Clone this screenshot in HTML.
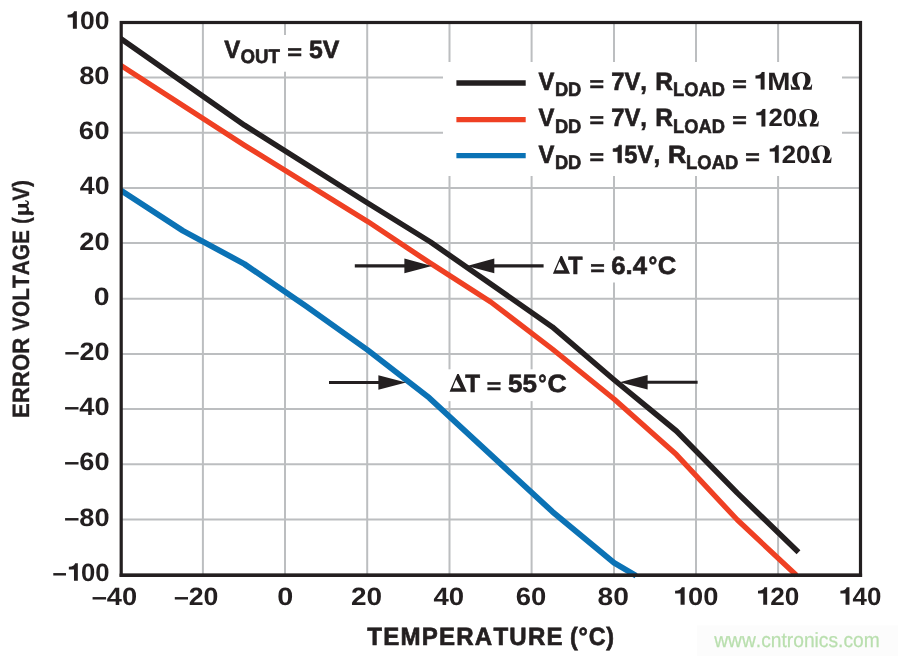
<!DOCTYPE html>
<html><head><meta charset="utf-8"><title>Error Voltage vs Temperature</title>
<style>
html,body{margin:0;padding:0;background:#fff;}
body{width:898px;height:656px;overflow:hidden;font-family:"Liberation Sans",sans-serif;}
svg{will-change:transform;}
svg text,svg path.one{vector-effect:non-scaling-stroke;}
svg text{font-kerning:none;text-rendering:geometricPrecision;white-space:pre;}
</style></head><body>
<svg width="898" height="656" viewBox="0 0 898 656" style="display:block">
<rect width="898" height="656" fill="#fff"/>
<rect x="697" y="625.5" width="201" height="30.5" fill="#fcfcfc"/>
<line x1="202.9" y1="22.5" x2="202.9" y2="575.2" stroke="#bcbec0" stroke-width="2"/>
<line x1="285.0" y1="22.5" x2="285.0" y2="575.2" stroke="#bcbec0" stroke-width="2"/>
<line x1="367.2" y1="22.5" x2="367.2" y2="575.2" stroke="#bcbec0" stroke-width="2"/>
<line x1="449.5" y1="22.5" x2="449.5" y2="575.2" stroke="#bcbec0" stroke-width="2"/>
<line x1="531.6" y1="22.5" x2="531.6" y2="575.2" stroke="#bcbec0" stroke-width="2"/>
<line x1="614.0" y1="22.5" x2="614.0" y2="575.2" stroke="#bcbec0" stroke-width="2"/>
<line x1="696.0" y1="22.5" x2="696.0" y2="575.2" stroke="#bcbec0" stroke-width="2"/>
<line x1="778.1" y1="22.5" x2="778.1" y2="575.2" stroke="#bcbec0" stroke-width="2"/>
<line x1="121.2" y1="77.5" x2="860.5" y2="77.5" stroke="#bcbec0" stroke-width="2"/>
<line x1="121.2" y1="132.7" x2="860.5" y2="132.7" stroke="#bcbec0" stroke-width="2"/>
<line x1="121.2" y1="188" x2="860.5" y2="188" stroke="#bcbec0" stroke-width="2"/>
<line x1="121.2" y1="243" x2="860.5" y2="243" stroke="#bcbec0" stroke-width="2"/>
<line x1="121.2" y1="298.7" x2="860.5" y2="298.7" stroke="#bcbec0" stroke-width="2"/>
<line x1="121.2" y1="354" x2="860.5" y2="354" stroke="#bcbec0" stroke-width="2"/>
<line x1="121.2" y1="409" x2="860.5" y2="409" stroke="#bcbec0" stroke-width="2"/>
<line x1="121.2" y1="464.2" x2="860.5" y2="464.2" stroke="#bcbec0" stroke-width="2"/>
<line x1="121.2" y1="519.4" x2="860.5" y2="519.4" stroke="#bcbec0" stroke-width="2"/>
<rect x="443" y="62" width="399" height="114" fill="#fff"/>
<rect x="220" y="35" width="124" height="36.7" fill="#fff"/>
<rect x="548" y="250.4" width="132" height="32.099999999999994" fill="#fff"/>
<rect x="445" y="369.3" width="125" height="31.80000000000001" fill="#fff"/>
<clipPath id="c"><rect x="120.5" y="20" width="742" height="580"/></clipPath>
<polyline points="115.3,186.8 121.3,190.7 182.9,230.7 244.4,264.0 306.0,306.2 367.6,350.0 429.2,397.8 552.4,511.7 614.0,562.7 636.1,575.7" fill="none" stroke="#0b72b5" stroke-width="5.8" stroke-linejoin="round" clip-path="url(#c)"/>
<polyline points="115.3,61.7 121.3,65.6 244.4,145.3 367.6,221.4 430.5,263.3 490.8,302.0 552.3,349.0 614.3,399.2 676.4,454.6 737.2,519.8 796.4,575.3" fill="none" stroke="#ef4023" stroke-width="5.3" stroke-linejoin="round" clip-path="url(#c)"/>
<polyline points="115.3,34.8 121.3,39.0 244.4,125.2 367.6,203.0 430.5,242.0 552.3,326.9 614.3,380.0 676.4,431.0 737.2,492.9 798.5,552.3" fill="none" stroke="#231f20" stroke-width="5.5" stroke-linejoin="round" clip-path="url(#c)"/>
<rect x="121.2" y="22.5" width="739.30" height="552.70" fill="none" stroke="#231f20" stroke-width="3.2"/>
<rect x="119.60000000000001" y="573.6" width="742.50" height="3.35" fill="#231f20"/>
<line x1="354.8" y1="265.9" x2="417.45" y2="265.9" stroke="#231f20" stroke-width="3.1"/>
<polygon points="404.4,258.59999999999997 431.8,265.9 404.4,273.2" fill="#231f20"/>
<line x1="543.6" y1="265.9" x2="481.3" y2="265.9" stroke="#231f20" stroke-width="3.1"/>
<polygon points="494.3,258.59999999999997 467.0,265.9 494.3,273.2" fill="#231f20"/>
<line x1="329" y1="382.5" x2="391.54999999999995" y2="382.5" stroke="#231f20" stroke-width="3.1"/>
<polygon points="378.4,375.2 406.0,382.5 378.4,389.8" fill="#231f20"/>
<line x1="697.6" y1="382.3" x2="634.3" y2="382.3" stroke="#231f20" stroke-width="3.1"/>
<polygon points="647.6,375.0 619.7,382.3 647.6,389.6" fill="#231f20"/>
<line x1="456.4" y1="83" x2="525.7" y2="83" stroke="#231f20" stroke-width="5.3"/>
<line x1="456.4" y1="119.6" x2="525.7" y2="119.6" stroke="#ef4023" stroke-width="5.1"/>
<line x1="456.4" y1="155.7" x2="525.7" y2="155.7" stroke="#0b72b5" stroke-width="5.2"/>
<g aria-label="100" transform="translate(65.35,28.80) scale(1.0582,1.0000)" font-family="Liberation Sans" font-weight="bold" font-size="25" fill="#231f20"><path class="one" transform="translate(2.12,0) scale(25,-25)" d="M0.35,0 L0.35,0.70 L0.245,0.70 C0.23,0.625 0.15,0.565 0,0.56 L0,0.448 L0.2,0.448 L0.2,0 Z"/><text x="13.90">00</text></g>
<g aria-label="80" transform="translate(79.13,84.00) scale(1.0928,1.0000)" font-family="Liberation Sans" font-weight="bold" font-size="25" fill="#231f20"><text x="0.00">80</text></g>
<g aria-label="60" transform="translate(78.79,139.20) scale(1.1057,1.0000)" font-family="Liberation Sans" font-weight="bold" font-size="25" fill="#231f20"><text x="0.00">60</text></g>
<g aria-label="40" transform="translate(79.80,194.40) scale(1.0680,1.0000)" font-family="Liberation Sans" font-weight="bold" font-size="25" fill="#231f20"><text x="0.00">40</text></g>
<g aria-label="20" transform="translate(79.26,249.60) scale(1.0882,1.0000)" font-family="Liberation Sans" font-weight="bold" font-size="25" fill="#231f20"><text x="0.00">20</text></g>
<g aria-label="0" transform="translate(93.78,304.80) scale(1.1354,1.0000)" font-family="Liberation Sans" font-weight="bold" font-size="25" fill="#231f20"><text x="0.00">0</text></g>
<g aria-label="–20" transform="translate(64.48,360.00) scale(1.0794,1.0000)" font-family="Liberation Sans" font-weight="bold" font-size="25" fill="#231f20"><text x="0.00">–20</text></g>
<g aria-label="–40" transform="translate(64.18,415.20) scale(1.0869,1.0000)" font-family="Liberation Sans" font-weight="bold" font-size="25" fill="#231f20"><text x="0.00">–40</text></g>
<g aria-label="–60" transform="translate(64.18,470.40) scale(1.0869,1.0000)" font-family="Liberation Sans" font-weight="bold" font-size="25" fill="#231f20"><text x="0.00">–60</text></g>
<g aria-label="–80" transform="translate(64.18,525.60) scale(1.0869,1.0000)" font-family="Liberation Sans" font-weight="bold" font-size="25" fill="#231f20"><text x="0.00">–80</text></g>
<g aria-label="–100" transform="translate(52.42,580.80) scale(1.0255,1.0000)" font-family="Liberation Sans" font-weight="bold" font-size="25" fill="#231f20"><text x="0.00">–</text><path class="one" transform="translate(16.03,0) scale(25,-25)" d="M0.35,0 L0.35,0.70 L0.245,0.70 C0.23,0.625 0.15,0.565 0,0.56 L0,0.448 L0.2,0.448 L0.2,0 Z"/><text x="27.80">00</text></g>
<g aria-label="–40" transform="translate(91.68,604.80) scale(1.0894,1.0000)" font-family="Liberation Sans" font-weight="bold" font-size="25" fill="#231f20"><text x="0.00">–40</text></g>
<g aria-label="–20" transform="translate(173.89,604.80) scale(1.0669,1.0000)" font-family="Liberation Sans" font-weight="bold" font-size="25" fill="#231f20"><text x="0.00">–20</text></g>
<g aria-label="0" transform="translate(277.26,604.80) scale(1.1523,1.0000)" font-family="Liberation Sans" font-weight="bold" font-size="25" fill="#231f20"><text x="0.00">0</text></g>
<g aria-label="20" transform="translate(351.03,604.80) scale(1.1190,1.0000)" font-family="Liberation Sans" font-weight="bold" font-size="25" fill="#231f20"><text x="0.00">20</text></g>
<g aria-label="40" transform="translate(433.38,604.80) scale(1.1021,1.0000)" font-family="Liberation Sans" font-weight="bold" font-size="25" fill="#231f20"><text x="0.00">40</text></g>
<g aria-label="60" transform="translate(515.79,604.80) scale(1.0979,1.0000)" font-family="Liberation Sans" font-weight="bold" font-size="25" fill="#231f20"><text x="0.00">60</text></g>
<g aria-label="80" transform="translate(597.51,604.80) scale(1.1274,1.0000)" font-family="Liberation Sans" font-weight="bold" font-size="25" fill="#231f20"><text x="0.00">80</text></g>
<g aria-label="100" transform="translate(672.78,604.80) scale(1.0919,1.0000)" font-family="Liberation Sans" font-weight="bold" font-size="25" fill="#231f20"><path class="one" transform="translate(2.12,0) scale(25,-25)" d="M0.35,0 L0.35,0.70 L0.245,0.70 C0.23,0.625 0.15,0.565 0,0.56 L0,0.448 L0.2,0.448 L0.2,0 Z"/><text x="13.90">00</text></g>
<g aria-label="120" transform="translate(755.78,604.80) scale(1.0452,1.0000)" font-family="Liberation Sans" font-weight="bold" font-size="25" fill="#231f20"><path class="one" transform="translate(2.12,0) scale(25,-25)" d="M0.35,0 L0.35,0.70 L0.245,0.70 C0.23,0.625 0.15,0.565 0,0.56 L0,0.448 L0.2,0.448 L0.2,0 Z"/><text x="13.90">20</text></g>
<g aria-label="140" transform="translate(838.20,604.80) scale(1.0348,1.0000)" font-family="Liberation Sans" font-weight="bold" font-size="25" fill="#231f20"><path class="one" transform="translate(2.12,0) scale(25,-25)" d="M0.35,0 L0.35,0.70 L0.245,0.70 C0.23,0.625 0.15,0.565 0,0.56 L0,0.448 L0.2,0.448 L0.2,0 Z"/><text x="13.90">40</text></g>
<g aria-label="TEMPERATURE" transform="translate(367.35,645.40) scale(0.9626,1.0000)" font-family="Liberation Sans" font-weight="bold" font-size="25" fill="#231f20" stroke="#231f20" stroke-width="0.65"><text x="0.00 16.52 34.44 56.51 74.43 92.35 111.65 130.96 147.47 166.77 186.08">TEMPERATURE</text></g>
<g aria-label="(°C)" transform="translate(570.06,645.40) scale(0.9322,1.0000)" font-family="Liberation Sans" font-weight="bold" font-size="25" fill="#231f20" stroke="#231f20" stroke-width="0.65"><text x="0.00 9.18 20.04 38.95">(°C)</text></g>
<g aria-label="ERROR" transform="rotate(-90) translate(-417.91,29.20) scale(0.9409,1.0000)" font-family="Liberation Sans" font-weight="bold" font-size="23.6" fill="#231f20" stroke="#231f20" stroke-width="0.35"><text x="0.00">ERROR</text></g>
<g aria-label="VOLTAGE" transform="rotate(-90) translate(-330.97,29.20) scale(0.8846,1.0000)" font-family="Liberation Sans" font-weight="bold" font-size="23.6" fill="#231f20" stroke="#231f20" stroke-width="0.35"><text x="0.00">VOLTAGE</text></g>
<g aria-label="(" transform="rotate(-90) translate(-223.69,29.20) scale(0.8183,1.0000)" font-family="Liberation Sans" font-weight="bold" font-size="23.6" fill="#231f20" stroke="#231f20" stroke-width="0.35"><text x="0.00">(</text></g>
<path transform="rotate(-90) translate(-214.66,29.2) scale(1,-1)" d="M0,11.2 L3.4,11.2 L3.4,4.2 C3.4,3.0 4.3,2.4 5.3,2.4 C6.4,2.4 7.1,3.0 7.1,4.2 L7.1,11.2 L10.7,11.2 L10.7,3.0 C10.7,2.2 11.2,1.9 11.8,1.9 C12.7,1.9 13.2,2.8 13.4,4.2 L14.4,4.2 C14.3,1.8 13.4,0.2 11.6,0.2 C10.2,0.2 9.2,0.9 8.6,2.0 C7.9,0.9 6.6,0.2 5.2,0.2 C4.4,0.2 3.8,0.4 3.4,0.7 L3.4,-1.5 C3.4,-3.3 3.0,-4.6 1.4,-4.6 C0.2,-4.6 -0.6,-3.9 -0.6,-3.0 C-0.6,-2.2 0,-1.6 0,-0.5 Z" fill="#231f20"/>
<g aria-label="V)" transform="rotate(-90) translate(-200.87,29.20) scale(0.8871,1.0000)" font-family="Liberation Sans" font-weight="bold" font-size="23.6" fill="#231f20" stroke="#231f20" stroke-width="0.35"><text x="0.00">V)</text></g>
<g aria-label="V" transform="translate(224.26,57.60) scale(0.9582,1.0000)" font-family="Liberation Sans" font-weight="bold" font-size="25" fill="#231f20" stroke="#231f20" stroke-width="0.65"><text x="0.00">V</text></g>
<g aria-label="OUT" transform="translate(240.46,62.90) scale(0.9576,1.0000)" font-family="Liberation Sans" font-weight="bold" font-size="19.5" fill="#231f20" stroke="#231f20" stroke-width="0.65"><text x="0.00">OUT</text></g>
<g aria-label="=" transform="translate(287.15,58.60) scale(1.0130,0.8300)" font-family="Liberation Sans" font-weight="bold" font-size="25" fill="#231f20" stroke="#231f20" stroke-width="0.6"><text x="0.00">=</text></g>
<g aria-label="5V" transform="translate(309.06,57.60) scale(0.9936,1.0000)" font-family="Liberation Sans" font-weight="bold" font-size="25" fill="#231f20" stroke="#231f20" stroke-width="0.65"><text x="0.00">5V</text></g>
<g aria-label="V" transform="translate(538.46,89.60) scale(0.9521,1.0000)" font-family="Liberation Sans" font-weight="bold" font-size="25" fill="#231f20" stroke="#231f20" stroke-width="0.65"><text x="0.00">V</text></g>
<g aria-label="DD" transform="translate(554.90,95.70) scale(0.9389,1.0000)" font-family="Liberation Sans" font-weight="bold" font-size="19.5" fill="#231f20" stroke="#231f20" stroke-width="0.65"><text x="0.00">DD</text></g>
<g aria-label="=" transform="translate(589.47,90.60) scale(0.9971,0.8300)" font-family="Liberation Sans" font-weight="bold" font-size="25" fill="#231f20" stroke="#231f20" stroke-width="0.6"><text x="0.00">=</text></g>
<g aria-label="7V," transform="translate(611.20,89.60) scale(0.9532,1.0000)" font-family="Liberation Sans" font-weight="bold" font-size="25" fill="#231f20" stroke="#231f20" stroke-width="0.65"><text x="0.00">7V,</text></g>
<g aria-label="R" transform="translate(655.29,89.60) scale(0.9799,1.0000)" font-family="Liberation Sans" font-weight="bold" font-size="25" fill="#231f20" stroke="#231f20" stroke-width="0.65"><text x="0.00">R</text></g>
<g aria-label="LOAD" transform="translate(673.10,95.70) scale(0.9384,1.0000)" font-family="Liberation Sans" font-weight="bold" font-size="19.5" fill="#231f20" stroke="#231f20" stroke-width="0.65"><text x="0.00">LOAD</text></g>
<g aria-label="=" transform="translate(732.27,90.60) scale(0.9971,0.8300)" font-family="Liberation Sans" font-weight="bold" font-size="25" fill="#231f20" stroke="#231f20" stroke-width="0.6"><text x="0.00">=</text></g>
<g aria-label="1" transform="translate(753.36,89.60) scale(1.0286,1.0000)" font-family="Liberation Sans" font-weight="bold" font-size="25" fill="#231f20" stroke="#231f20" stroke-width="0.1"><path class="one" transform="translate(2.12,0) scale(25,-25)" d="M0.35,0 L0.35,0.70 L0.245,0.70 C0.23,0.625 0.15,0.565 0,0.56 L0,0.448 L0.2,0.448 L0.2,0 Z"/></g>
<g aria-label="M" transform="translate(767.29,89.60) scale(1.1098,1.0000)" font-family="Liberation Sans" font-weight="bold" font-size="25" fill="#231f20" stroke="#231f20" stroke-width="0.1"><text x="0.00">M</text></g>
<path transform="translate(790.60,89.80) scale(18.151,-17.7)" d="M0.03,0 L0.51,0 L0.51,0.13 C0.41,0.25 0.36,0.40 0.36,0.58 C0.36,0.80 0.45,0.94 0.595,0.94 C0.74,0.94 0.81,0.80 0.81,0.58 C0.81,0.40 0.78,0.25 0.68,0.13 L0.68,0 L1.16,0 L1.19,0.30 L1.145,0.30 C1.13,0.20 1.10,0.15 1.02,0.15 L0.86,0.15 C1.00,0.25 1.10,0.40 1.10,0.60 C1.10,0.84 0.88,1.0 0.595,1.0 C0.31,1.0 0.09,0.84 0.09,0.60 C0.09,0.40 0.19,0.25 0.33,0.15 L0.17,0.15 C0.09,0.15 0.06,0.20 0.045,0.30 L0,0.30 Z" fill="#231f20"/>
<g aria-label="V" transform="translate(538.46,126.40) scale(0.9521,1.0000)" font-family="Liberation Sans" font-weight="bold" font-size="25" fill="#231f20" stroke="#231f20" stroke-width="0.65"><text x="0.00">V</text></g>
<g aria-label="DD" transform="translate(554.90,132.50) scale(0.9389,1.0000)" font-family="Liberation Sans" font-weight="bold" font-size="19.5" fill="#231f20" stroke="#231f20" stroke-width="0.65"><text x="0.00">DD</text></g>
<g aria-label="=" transform="translate(589.47,127.40) scale(0.9971,0.8300)" font-family="Liberation Sans" font-weight="bold" font-size="25" fill="#231f20" stroke="#231f20" stroke-width="0.6"><text x="0.00">=</text></g>
<g aria-label="7V," transform="translate(611.20,126.40) scale(0.9532,1.0000)" font-family="Liberation Sans" font-weight="bold" font-size="25" fill="#231f20" stroke="#231f20" stroke-width="0.65"><text x="0.00">7V,</text></g>
<g aria-label="R" transform="translate(655.29,126.40) scale(0.9799,1.0000)" font-family="Liberation Sans" font-weight="bold" font-size="25" fill="#231f20" stroke="#231f20" stroke-width="0.65"><text x="0.00">R</text></g>
<g aria-label="LOAD" transform="translate(673.10,132.50) scale(0.9384,1.0000)" font-family="Liberation Sans" font-weight="bold" font-size="19.5" fill="#231f20" stroke="#231f20" stroke-width="0.65"><text x="0.00">LOAD</text></g>
<g aria-label="=" transform="translate(732.27,127.40) scale(0.9971,0.8300)" font-family="Liberation Sans" font-weight="bold" font-size="25" fill="#231f20" stroke="#231f20" stroke-width="0.6"><text x="0.00">=</text></g>
<g aria-label="120" transform="translate(754.17,126.40) scale(1.0270,1.0000)" font-family="Liberation Sans" font-weight="bold" font-size="25" fill="#231f20" stroke="#231f20" stroke-width="0.1"><path class="one" transform="translate(2.12,0) scale(25,-25)" d="M0.35,0 L0.35,0.70 L0.245,0.70 C0.23,0.625 0.15,0.565 0,0.56 L0,0.448 L0.2,0.448 L0.2,0 Z"/><text x="13.90">20</text></g>
<path transform="translate(797.70,126.60) scale(17.731,-17.7)" d="M0.03,0 L0.51,0 L0.51,0.13 C0.41,0.25 0.36,0.40 0.36,0.58 C0.36,0.80 0.45,0.94 0.595,0.94 C0.74,0.94 0.81,0.80 0.81,0.58 C0.81,0.40 0.78,0.25 0.68,0.13 L0.68,0 L1.16,0 L1.19,0.30 L1.145,0.30 C1.13,0.20 1.10,0.15 1.02,0.15 L0.86,0.15 C1.00,0.25 1.10,0.40 1.10,0.60 C1.10,0.84 0.88,1.0 0.595,1.0 C0.31,1.0 0.09,0.84 0.09,0.60 C0.09,0.40 0.19,0.25 0.33,0.15 L0.17,0.15 C0.09,0.15 0.06,0.20 0.045,0.30 L0,0.30 Z" fill="#231f20"/>
<g aria-label="V" transform="translate(538.46,162.70) scale(0.9521,1.0000)" font-family="Liberation Sans" font-weight="bold" font-size="25" fill="#231f20" stroke="#231f20" stroke-width="0.65"><text x="0.00">V</text></g>
<g aria-label="DD" transform="translate(554.90,168.80) scale(0.9389,1.0000)" font-family="Liberation Sans" font-weight="bold" font-size="19.5" fill="#231f20" stroke="#231f20" stroke-width="0.65"><text x="0.00">DD</text></g>
<g aria-label="=" transform="translate(589.47,163.70) scale(0.9971,0.8300)" font-family="Liberation Sans" font-weight="bold" font-size="25" fill="#231f20" stroke="#231f20" stroke-width="0.6"><text x="0.00">=</text></g>
<g aria-label="15V," transform="translate(611.10,162.70) scale(0.9522,1.0000)" font-family="Liberation Sans" font-weight="bold" font-size="25" fill="#231f20" stroke="#231f20" stroke-width="0.65"><path class="one" transform="translate(2.12,0) scale(25,-25)" d="M0.35,0 L0.35,0.70 L0.245,0.70 C0.23,0.625 0.15,0.565 0,0.56 L0,0.448 L0.2,0.448 L0.2,0 Z"/><text x="13.90">5V,</text></g>
<g aria-label="R" transform="translate(667.93,162.70) scale(1.0114,1.0000)" font-family="Liberation Sans" font-weight="bold" font-size="25" fill="#231f20" stroke="#231f20" stroke-width="0.65"><text x="0.00">R</text></g>
<g aria-label="LOAD" transform="translate(686.09,168.80) scale(0.9441,1.0000)" font-family="Liberation Sans" font-weight="bold" font-size="19.5" fill="#231f20" stroke="#231f20" stroke-width="0.65"><text x="0.00">LOAD</text></g>
<g aria-label="=" transform="translate(745.17,163.70) scale(0.9971,0.8300)" font-family="Liberation Sans" font-weight="bold" font-size="25" fill="#231f20" stroke="#231f20" stroke-width="0.6"><text x="0.00">=</text></g>
<g aria-label="120" transform="translate(767.57,162.70) scale(1.0270,1.0000)" font-family="Liberation Sans" font-weight="bold" font-size="25" fill="#231f20" stroke="#231f20" stroke-width="0.1"><path class="one" transform="translate(2.12,0) scale(25,-25)" d="M0.35,0 L0.35,0.70 L0.245,0.70 C0.23,0.625 0.15,0.565 0,0.56 L0,0.448 L0.2,0.448 L0.2,0 Z"/><text x="13.90">20</text></g>
<path transform="translate(811.00,162.90) scale(17.311,-17.7)" d="M0.03,0 L0.51,0 L0.51,0.13 C0.41,0.25 0.36,0.40 0.36,0.58 C0.36,0.80 0.45,0.94 0.595,0.94 C0.74,0.94 0.81,0.80 0.81,0.58 C0.81,0.40 0.78,0.25 0.68,0.13 L0.68,0 L1.16,0 L1.19,0.30 L1.145,0.30 C1.13,0.20 1.10,0.15 1.02,0.15 L0.86,0.15 C1.00,0.25 1.10,0.40 1.10,0.60 C1.10,0.84 0.88,1.0 0.595,1.0 C0.31,1.0 0.09,0.84 0.09,0.60 C0.09,0.40 0.19,0.25 0.33,0.15 L0.17,0.15 C0.09,0.15 0.06,0.20 0.045,0.30 L0,0.30 Z" fill="#231f20"/>
<path transform="translate(552.90,273.80) scale(17.813,-17.7)" d="M0,0 L0.96,0 L0.515,1 L0.43,1 Z M0.165,0.2 L0.635,0.2 L0.37,0.70 Z" fill="#231f20" fill-rule="evenodd"/>
<g aria-label="T" transform="translate(568.16,273.70) scale(0.9340,1.0000)" font-family="Liberation Sans" font-weight="bold" font-size="25" fill="#231f20" stroke="#231f20" stroke-width="0.65"><text x="0.00">T</text></g>
<g aria-label="=" transform="translate(590.17,274.70) scale(0.9971,0.8300)" font-family="Liberation Sans" font-weight="bold" font-size="25" fill="#231f20" stroke="#231f20" stroke-width="0.6"><text x="0.00">=</text></g>
<g aria-label="6.4" transform="translate(611.28,273.70) scale(1.0281,1.0000)" font-family="Liberation Sans" font-weight="bold" font-size="25" fill="#231f20" stroke="#231f20" stroke-width="0.65"><text x="0.00">6.4</text></g>
<g aria-label="°" transform="translate(648.56,273.70) scale(0.8754,1.0000)" font-family="Liberation Sans" font-weight="bold" font-size="25" fill="#231f20" stroke="#231f20" stroke-width="0.65"><text x="0.00">°</text></g>
<g aria-label="C" transform="translate(657.87,273.70) scale(1.0248,1.0000)" font-family="Liberation Sans" font-weight="bold" font-size="25" fill="#231f20" stroke="#231f20" stroke-width="0.65"><text x="0.00">C</text></g>
<path transform="translate(449.60,391.80) scale(17.812,-17.7)" d="M0,0 L0.96,0 L0.515,1 L0.43,1 Z M0.165,0.2 L0.635,0.2 L0.37,0.70 Z" fill="#231f20" fill-rule="evenodd"/>
<g aria-label="T" transform="translate(465.35,391.70) scale(0.9680,1.0000)" font-family="Liberation Sans" font-weight="bold" font-size="25" fill="#231f20" stroke="#231f20" stroke-width="0.65"><text x="0.00">T</text></g>
<g aria-label="=" transform="translate(486.67,392.70) scale(0.9891,0.8300)" font-family="Liberation Sans" font-weight="bold" font-size="25" fill="#231f20" stroke="#231f20" stroke-width="0.6"><text x="0.00">=</text></g>
<g aria-label="55" transform="translate(507.92,391.70) scale(1.0420,1.0000)" font-family="Liberation Sans" font-weight="bold" font-size="25" fill="#231f20" stroke="#231f20" stroke-width="0.65"><text x="0.00">55</text></g>
<g aria-label="°" transform="translate(538.21,391.70) scale(0.8371,1.0000)" font-family="Liberation Sans" font-weight="bold" font-size="25" fill="#231f20" stroke="#231f20" stroke-width="0.65"><text x="0.00">°</text></g>
<g aria-label="C" transform="translate(547.44,391.70) scale(1.0615,1.0000)" font-family="Liberation Sans" font-weight="bold" font-size="25" fill="#231f20" stroke="#231f20" stroke-width="0.65"><text x="0.00">C</text></g>
<g aria-label="www.cntronics.com" transform="translate(714.15,646.60) scale(0.9379,1.0000)" font-family="Liberation Sans" font-weight="normal" font-size="20.5" fill="#b9dfae" stroke="#b9dfae" stroke-width="0.25"><text x="0.00">www.cntronics.com</text></g>
</svg>
</body></html>
